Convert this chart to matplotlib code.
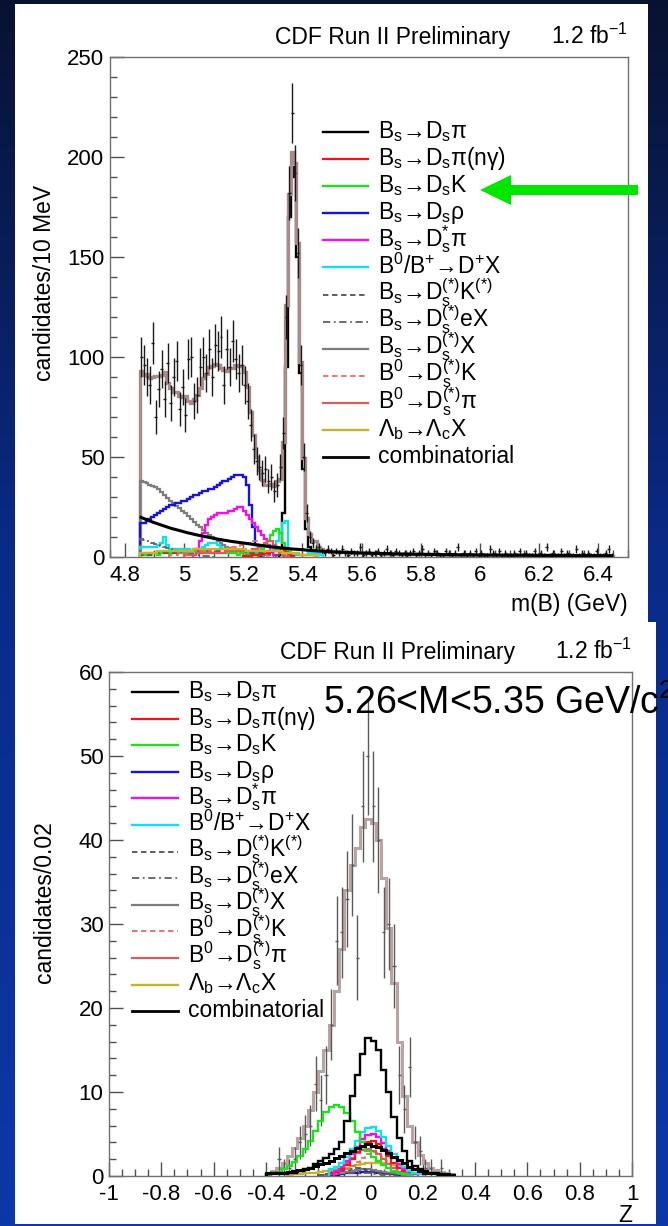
import numpy as np
import matplotlib
matplotlib.use("Agg")
import matplotlib.pyplot as plt
from matplotlib.patches import Rectangle, Polygon
from matplotlib.lines import Line2D
from matplotlib.ticker import MultipleLocator, FuncFormatter

plt.rcParams['font.family'] = ['Liberation Sans', 'DejaVu Sans']
plt.rcParams['mathtext.fontset'] = 'custom'
plt.rcParams['mathtext.rm'] = 'Liberation Sans'
plt.rcParams['mathtext.it'] = 'Liberation Sans:italic'
plt.rcParams['mathtext.bf'] = 'Liberation Sans:bold'
plt.rcParams['mathtext.sf'] = 'Liberation Sans'
plt.rcParams['axes.unicode_minus'] = False

# ======================= DATA =======================
legend_labels = [
    r'B$_\mathrm{s}$→D$_\mathrm{s}$π',
    r'B$_\mathrm{s}$→D$_\mathrm{s}$π(nγ)',
    r'B$_\mathrm{s}$→D$_\mathrm{s}$K',
    r'B$_\mathrm{s}$→D$_\mathrm{s}$ρ',
    r'B$_\mathrm{s}$→D$_\mathrm{s}^\mathrm{*}$π',
    r'B$^\mathrm{0}$/B$^\mathrm{+}$→D$^\mathrm{+}$X',
    r'B$_\mathrm{s}$→D$_\mathrm{s}^\mathrm{(*)}$K$^\mathrm{(*)}$',
    r'B$_\mathrm{s}$→D$_\mathrm{s}^\mathrm{(*)}$eX',
    r'B$_\mathrm{s}$→D$_\mathrm{s}^\mathrm{(*)}$X',
    r'B$^\mathrm{0}$→D$_\mathrm{s}^\mathrm{(*)}$K',
    r'B$^\mathrm{0}$→D$_\mathrm{s}^\mathrm{(*)}$π',
    r'Λ$_\mathrm{b}$→Λ$_\mathrm{c}$X',
    'combinatorial',
]

# ---- top panel: m(B), 10 MeV bins starting at 4.85 ----
mass_bin = 0.01
mass_lo = 4.85
mass_counts = [
    100, 96, 90, 86, 107, 70, 84, 94, 79, 97, 77, 90, 98, 74, 85, 71, 99, 100,
    78, 81, 95, 100, 92, 104, 90, 106, 103, 110, 86, 104, 95, 108, 99, 92, 96, 86,
    78, 66, 54, 48, 45, 42, 44, 38, 40, 33, 36, 45,
    62, 120, 182, 222, 192, 152, 96, 50, 22, 10, 7, 4,
    5, 3, 2, 4, 3, 1, 3, 2, 4, 2,
    1, 3, 2, 2, 5, 1, 2, 3, 1, 2,
    3, 1, 2, 4, 2, 1, 3, 2, 1, 2,
    1, 2, 3, 1, 2, 4, 1, 2, 1, 3,
    2, 1, 1, 3, 2, 1, 2, 5, 1, 2,
    1, 2, 1, 3, 1, 2, 1, 1, 4, 2,
    1, 3, 1, 2, 1, 1, 2, 1, 3, 1,
    2, 1, 1, 3, 1, 2, 1, 5, 1, 2,
    1, 1, 3, 1, 2, 1, 1, 4, 1, 2,
    1, 2, 1, 1, 3, 1, 1, 2, 4, 1,
]
mass_comb = [
    19.8, 19.2, 18.6, 18.0, 17.4, 16.9, 16.4, 15.9, 15.4, 14.9,
    14.4, 14.0, 13.6, 13.2, 12.8, 12.4, 12.0, 11.7, 11.3, 11.0,
    10.7, 10.4, 10.1, 9.8, 9.5, 9.2, 8.9, 8.7, 8.4, 8.2,
    7.9, 7.7, 7.5, 7.3, 7.1, 6.9, 6.7, 6.5, 6.3, 6.1,
    5.9, 5.7, 5.5, 5.3, 5.1, 4.9, 4.8, 4.6, 4.5, 4.3,
    4.2, 4.0, 3.9, 3.8, 3.7, 3.6, 3.4, 3.3, 3.2, 3.1,
    3.0, 2.9, 2.8, 2.8, 2.7, 2.6, 2.5, 2.5, 2.4, 2.3,
    2.3, 2.2, 2.2, 2.1, 2.1, 2.0, 2.0, 1.9, 1.9, 1.8,
    1.8, 1.8, 1.7, 1.7, 1.7, 1.6, 1.6, 1.6, 1.5, 1.5,
    1.5, 1.5, 1.4, 1.4, 1.4, 1.4, 1.3, 1.3, 1.3, 1.3,
    1.3, 1.2, 1.2, 1.2, 1.2, 1.2, 1.2, 1.1, 1.1, 1.1,
    1.1, 1.1, 1.1, 1.1, 1.0, 1.0, 1.0, 1.0, 1.0, 1.0,
    1.0, 1.0, 0.9, 0.9, 0.9, 0.9, 0.9, 0.9, 0.9, 0.9,
    0.9, 0.9, 0.9, 0.8, 0.8, 0.8, 0.8, 0.8, 0.8, 0.8,
    0.8, 0.8, 0.8, 0.8, 0.8, 0.8, 0.7, 0.7, 0.7, 0.7,
    0.7, 0.7, 0.7, 0.7, 0.7, 0.7, 0.7, 0.7, 0.7, 0.7,
]
m_sig_start = 5.32
m_sig = [1, 22, 95, 170, 195, 190, 150, 92, 44, 14, 5, 2, 1]
m_ngamma_start = 5.20
m_ngamma = [0.5, 0.6, 0.7, 0.8, 1.0, 1.2, 1.4, 1.7, 2.0, 2.4, 2.8, 3.3, 4.0, 3.5, 2.5, 1.2, 0.4]
m_dsk_start = 4.85
m_dsk = [1, 1, 2, 1, 2, 2, 1, 2, 2, 2, 2, 2, 3, 2, 2, 3, 2, 2, 3, 2,
         2, 3, 2, 2, 2, 2, 2, 2, 2, 2, 2, 2, 2, 1, 2,
         2, 2, 2, 2, 2, 3, 4, 6, 8, 11, 13, 14, 12, 7, 3, 1]
m_rho_start = 4.85
m_rho = [17, 17, 18, 19, 20, 21, 22, 23, 24, 25, 26, 26, 27, 27, 28, 28, 29, 30, 31, 31,
         32, 33, 33, 34, 34, 35, 36, 37, 38, 38, 39, 40, 41, 41, 41, 40, 36, 26, 15, 6, 2]
m_dsstar_start = 5.03
m_dsstar = [1, 4, 8, 12, 16, 19, 20, 21, 22, 22, 22, 22, 23, 23, 24, 25, 25, 23, 21, 19,
            17, 15, 13, 11, 9, 6, 3, 1]
m_dplus_start = 4.85
m_dplus = [5, 5, 5, 5, 5, 5, 6, 7, 10, 6,
           4, 4, 4, 4, 4, 4, 4, 3, 3, 4,
           4, 5, 6, 7, 7, 7, 6, 5, 4, 4,
           3, 3, 3, 3, 2, 2, 2, 2, 2, 2,
           2, 2, 2, 2, 3, 4, 8, 12, 17, 18,
           3, 1, 1, 1, 1, 1, 1, 2, 2, 3, 2, 1]
m_dskst_start = 4.85
m_dskst = [1, 1, 1, 1, 1, 2, 2, 2, 2, 2, 2, 2, 2, 2, 3, 3, 3, 3, 3, 3,
           3, 3, 3, 3, 3, 3, 3, 3, 3, 3, 3, 3, 3, 3, 3, 3, 2, 2, 2, 2,
           2, 2, 1, 1, 1, 1, 1, 0.5, 0.5, 0.5]
m_dsex_start = 4.85
m_dsex = [9, 8.5, 8, 7.5, 7, 6.5, 6, 5.5, 5, 4.5, 4, 3.6, 3.2, 2.8, 2.4, 2, 1.7, 1.4, 1.1, 0.9,
          0.7, 0.5, 0.4, 0.3, 0.2, 0.1]
m_dsx_start = 4.85
m_dsx = [38, 37.5, 37, 36, 35.5, 35, 34, 32.5, 31, 29.5, 28, 27, 25.5, 24.5, 23, 22, 20.5, 19,
         17.5, 16, 15, 13.5, 12, 11, 10, 9, 8, 7, 6, 5, 4.5, 4, 3.5, 3, 2.5, 2, 1.5, 1.5,
         1, 1, 0.5, 0.5]
m_b0k_start = 4.95
m_b0k = [1, 1, 1, 2, 2, 2, 2, 3, 3, 3, 3, 3, 3, 3, 4, 4, 4, 4, 4, 4,
         5, 5, 5, 5, 6, 6, 7, 7, 8, 8, 6, 3, 1, 0.5]
m_b0pi_start = 5.00
m_b0pi = [1, 1, 1, 1, 2, 2, 2, 2, 2, 2, 2, 2, 2, 2, 3, 3, 3, 3, 3, 3,
          3, 3, 3, 4, 4, 5, 6, 7, 8, 8, 6, 4, 2, 1, 0.5]
m_lb_start = 4.85
m_lb = [2, 2, 2, 2, 2, 2, 3, 3, 3, 3, 3, 3, 3, 3, 3, 3, 3, 3, 4, 4,
        4, 4, 4, 4, 4, 4, 4, 4, 4, 4, 4, 4, 4, 4, 4, 4, 3, 3, 3, 3,
        3, 3, 3, 3, 3, 3, 3, 3, 2, 2, 2, 2, 2, 2, 1, 1, 1, 1, 1, 1]

# ---- bottom panel: Z, 0.02 bins, listed from -0.40 ----
z_bin = 0.02
z_lo = -0.40
z_counts = [0, 0, 2, 1, 1, 2, 4, 5, 6, 11, 9, 12, 18, 28, 29, 33, 37, 26, 44, 50,
            44, 40, 29, 30, 25, 12, 8, 13, 4, 3, 1, 1, 0, 1, 0, 0]
z_total = [0.3, 0.6, 1.0, 1.6, 2.4, 3.3, 4.5, 6.0, 7.8, 10.0, 12.5, 15.0, 18.0, 22.0, 27.0,
           34.0, 37.0, 39.0, 41.5, 42.5, 42.0, 40.0, 35.5, 29.5, 23.0, 16.0, 9.5, 6.0, 4.0,
           2.5, 1.5, 1.0, 0.7, 0.5, 0.4, 0.2]
z_sig_start = -0.40
z_sig = [0.2, 0.3, 0.3, 0.3, 0.4, 0.4, 0.6, 0.8, 1.0, 1.4, 1.8, 2.2, 2.6, 3.2, 4.0, 6.5,
         9.5, 12.0, 14.5, 16.4, 16.1, 15.0, 12.6, 10.0, 7.0, 4.5, 3.0, 1.8, 1.2, 0.8,
         0.6, 0.4, 0.3, 0.2, 0.1, 0.1]
z_ngamma_start = -0.16
z_ngamma = [0.3, 0.5, 0.8, 1.3, 2.0, 2.8, 3.5, 4.0, 4.2, 3.8, 3.2, 2.4, 1.6, 1.0, 0.6, 0.3]
z_dsk_start = -0.40
z_dsk = [0.1, 0.3, 0.5, 0.8, 1.2, 1.7, 2.4, 3.2, 4.2, 5.3, 6.5, 7.6, 8.2, 8.5, 8.2, 7.5,
         6.5, 5.2, 4.0, 3.0, 2.3, 1.8, 1.3, 0.9, 0.6, 0.4, 0.2, 0.1]
z_rho_start = -0.16
z_rho = [0.1, 0.1, 0.2, 0.3, 0.4, 0.4, 0.5, 0.5, 0.5, 0.4, 0.4, 0.3, 0.2, 0.1, 0.1, 0.1]
z_dsstar_start = -0.14
z_dsstar = [0.6, 1.1, 1.8, 2.6, 3.5, 4.4, 4.9, 5.0, 4.6, 3.9, 3.0, 2.1, 1.4, 0.8, 0.4, 0.2]
z_dplus_start = -0.16
z_dplus = [0.8, 1.1, 1.5, 2.3, 3.2, 4.2, 5.2, 5.7, 5.8, 5.4, 4.6, 3.6, 2.6, 1.8, 1.1, 0.6, 0.3, 0.2]
z_dskst_start = -0.20
z_dskst = [0.1, 0.2, 0.3, 0.4, 0.6, 0.7, 0.8, 0.9, 0.8, 0.7, 0.5, 0.4, 0.3, 0.2, 0.1]
z_dsex_start = -0.20
z_dsex = [0.1, 0.1, 0.2, 0.2, 0.3, 0.3, 0.4, 0.4, 0.3, 0.3, 0.2, 0.2, 0.1, 0.1]
z_dsx_start = -0.18
z_dsx = [0.1, 0.2, 0.3, 0.4, 0.5, 0.6, 0.7, 0.8, 0.8, 0.7, 0.6, 0.5, 0.4, 0.3, 0.2, 0.1]
z_b0k_start = -0.14
z_b0k = [0.2, 0.4, 0.8, 1.2, 1.7, 2.2, 2.6, 2.8, 2.7, 2.3, 1.8, 1.2, 0.8, 0.4, 0.2]
z_b0pi_start = -0.16
z_b0pi = [0.3, 0.6, 1.0, 1.5, 2.1, 2.7, 3.1, 3.2, 3.0, 2.6, 2.0, 1.4, 0.9, 0.5, 0.3, 0.1]
z_lb_start = -0.32
z_lb = [0.1, 0.2, 0.2, 0.3, 0.3, 0.4, 0.5, 0.6, 0.7, 0.8, 0.9, 1.0, 1.2, 1.3, 1.4, 1.5,
        1.6, 1.6, 1.5, 1.4, 1.3, 1.2, 1.0, 0.9, 0.7, 0.6, 0.5, 0.4, 0.3, 0.2, 0.2, 0.1]
z_comb_start = -0.40
z_comb = [0.3, 0.3, 0.4, 0.4, 0.5, 0.6, 0.7, 0.8, 1.0, 1.2, 1.4, 1.6, 1.8, 2.1, 2.4, 2.7,
          3.0, 3.3, 3.6, 3.8, 3.6, 3.4, 3.1, 2.7, 2.3, 1.9, 1.5, 1.1, 0.8, 0.6, 0.4, 0.3,
          0.3, 0.2, 0.2, 0.1]

# ======================= STYLES =======================
styles = [
    dict(color='#000000', lw=1.7, ls='-'),
    dict(color='#ff1010', lw=1.6, ls='-'),
    dict(color='#22dd22', lw=1.7, ls='-'),
    dict(color='#1414dd', lw=1.7, ls='-'),
    dict(color='#ee10ee', lw=1.7, ls='-'),
    dict(color='#10e0ea', lw=1.7, ls='-'),
    dict(color='#505050', lw=1.3, ls=(0, (3, 2))),
    dict(color='#606060', lw=1.3, ls=(0, (4, 2, 1, 2))),
    dict(color='#7c7c7c', lw=1.6, ls='-'),
    dict(color='#e06a6a', lw=1.3, ls=(0, (3, 2))),
    dict(color='#d85c5c', lw=1.6, ls='-'),
    dict(color='#c8b428', lw=1.7, ls='-'),
    dict(color='#000000', lw=2.2, ls='-'),
]

W, H = 668, 1226
def fx(px):
    return px / W
def fy(py):
    return 1 - py / H

fig = plt.figure(figsize=(W / 100, H / 100), dpi=100)

# ---- slide background ----
bg = fig.add_axes([0, 0, 1, 1], zorder=-5)
bg.set_xlim(0, W)
bg.set_ylim(H, 0)
bg.axis('off')
grad = np.linspace(0, 1, 256)[:, None]
c0 = np.array([8, 18, 48]) / 255
c1 = np.array([10, 42, 135]) / 255
c2 = np.array([12, 56, 168]) / 255
cols = np.where(grad[..., None] < 0.45,
                c0 + (c1 - c0) * (grad[..., None] / 0.45),
                c1 + (c2 - c1) * ((grad[..., None] - 0.45) / 0.55))
bg.imshow(cols, extent=[0, W, H, 0], aspect='auto', zorder=0)
bg.add_patch(Rectangle((15, 4), 633, 618, facecolor='white', edgecolor='none', zorder=1))
bg.add_patch(Rectangle((15, 622), 641, 602, facecolor='white', edgecolor='none', zorder=1))

TICK_FS = 16
TXT_FS = 16.5

def style_axes(ax):
    ax.set_facecolor('none')
    for s in ax.spines.values():
        s.set_color('#707070')
        s.set_linewidth(1.0)
    ax.tick_params(which='both', direction='in', top=False, right=False,
                   colors='#505050', labelcolor='black', labelsize=TICK_FS)
    ax.tick_params(which='major', length=10, width=1.0)
    ax.tick_params(which='minor', length=5, width=1.0)
    ax.tick_params(axis='x', pad=6)
    ax.tick_params(axis='y', pad=4)
    fmt = FuncFormatter(lambda v, p: ('%g' % round(v, 3)))
    ax.xaxis.set_major_formatter(fmt)
    ax.yaxis.set_major_formatter(fmt)

def place(start, vals, lo, width, n):
    arr = np.zeros(n)
    i0 = int(round((start - lo) / width))
    arr[i0:i0 + len(vals)] = vals
    return arr

def hist(ax, start, width, vals, st, z):
    vals = np.asarray(vals, float)
    edges = start + width * np.arange(len(vals) + 1)
    ax.stairs(vals, edges, baseline=0, color=st['color'], linewidth=st['lw'],
              linestyle=st['ls'], zorder=z)

# ======================= TOP PANEL =======================
ax1 = fig.add_axes([fx(110), fy(557), fx(628) - fx(110), fy(57) - fy(557)])
style_axes(ax1)
n_m = len(mass_counts)
m_edges = mass_lo + mass_bin * np.arange(n_m + 1)
m_centers = mass_lo + mass_bin * (np.arange(n_m) + 0.5)

top_components = [
    (m_sig_start, m_sig), (m_ngamma_start, m_ngamma), (m_dsk_start, m_dsk),
    (m_rho_start, m_rho), (m_dsstar_start, m_dsstar), (m_dplus_start, m_dplus),
    (m_dskst_start, m_dskst), (m_dsex_start, m_dsex), (m_dsx_start, m_dsx),
    (m_b0k_start, m_b0k), (m_b0pi_start, m_b0pi), (m_lb_start, m_lb),
]
m_total = np.array(mass_comb, float)
for s0, v in top_components:
    m_total = m_total + place(s0, v, mass_lo, mass_bin, n_m)

# signal sits underneath the fit total, as in the original
hist(ax1, m_sig_start, mass_bin, m_sig, styles[0], 1.5)
ax1.stairs(m_total, m_edges, baseline=0, color='#a88c8c', linewidth=2.4, zorder=2)
cnt = np.array(mass_counts, float)
ok = cnt > 0
ax1.errorbar(m_centers[ok], cnt[ok], yerr=np.sqrt(cnt[ok]), xerr=mass_bin / 2,
             fmt='none', ecolor='#1a1a1a', elinewidth=1.0, capsize=0, zorder=3)
for k in [8, 3, 4, 5, 2, 1, 6, 7, 9, 10, 11]:
    s0, v = top_components[k]
    hist(ax1, s0, mass_bin, v, styles[k], 4)
ax1.plot(m_centers, mass_comb, color=styles[12]['color'], lw=styles[12]['lw'], zorder=5)

ax1.set_xlim(4.75, 6.5)
ax1.set_ylim(0, 250)
ax1.xaxis.set_major_locator(MultipleLocator(0.2))
ax1.xaxis.set_minor_locator(MultipleLocator(0.05))
ax1.yaxis.set_major_locator(MultipleLocator(50))
ax1.yaxis.set_minor_locator(MultipleLocator(10))

# ======================= BOTTOM PANEL =======================
ax2 = fig.add_axes([fx(109), fy(1176), fx(632) - fx(109), fy(672) - fy(1176)])
style_axes(ax2)
n_z = len(z_counts)
z_edges = z_lo + z_bin * np.arange(n_z + 1)
z_centers = z_lo + z_bin * (np.arange(n_z) + 0.5)
ax2.stairs(np.array(z_total, float), z_edges, baseline=0, color='#b9a3a3', linewidth=2.2, zorder=2)
zc = np.array(z_counts, float)
ok = zc > 0
ax2.errorbar(z_centers[ok], zc[ok], yerr=np.sqrt(zc[ok]), xerr=0.006,
             fmt='none', ecolor='#5a5a5a', elinewidth=1.0, capsize=0, zorder=3)
bottom_components = [
    (z_sig_start, z_sig), (z_ngamma_start, z_ngamma), (z_dsk_start, z_dsk),
    (z_rho_start, z_rho), (z_dsstar_start, z_dsstar), (z_dplus_start, z_dplus),
    (z_dskst_start, z_dskst), (z_dsex_start, z_dsex), (z_dsx_start, z_dsx),
    (z_b0k_start, z_b0k), (z_b0pi_start, z_b0pi), (z_lb_start, z_lb),
    (z_comb_start, z_comb),
]
for k in [11, 3, 8, 6, 7, 9, 10, 1, 4, 5, 2, 12, 0]:
    s0, v = bottom_components[k]
    hist(ax2, s0, z_bin, v, styles[k], 4)
ax2.set_xlim(-1, 1)
ax2.set_ylim(0, 60)
ax2.xaxis.set_major_locator(MultipleLocator(0.2))
ax2.xaxis.set_minor_locator(MultipleLocator(0.05))
ax2.yaxis.set_major_locator(MultipleLocator(10))
ax2.yaxis.set_minor_locator(MultipleLocator(2))

# ======================= LEGENDS (ROOT-like, fixed row pitch) =======================
def legend(x0, x1, xt, y0, pitch):
    for i, (lab, st) in enumerate(zip(legend_labels, styles)):
        y = y0 + pitch * i
        fig.add_artist(Line2D([fx(x0), fx(x1)], [fy(y), fy(y)], color=st['color'],
                              linewidth=min(st['lw'], 2.0), linestyle=st['ls'],
                              transform=fig.transFigure, zorder=6))
        fig.text(fx(xt), fy(y + 6), lab, ha='left', va='baseline', fontsize=TXT_FS,
                 color='black', zorder=6)

legend(323, 368, 378, 132, 27.1)
legend(132, 178, 188, 692, 26.6)

# ======================= TEXTS =======================
fig.text(fx(275), fy(44), 'CDF Run II Preliminary', ha='left', va='baseline', fontsize=TXT_FS)
fig.text(fx(628), fy(44), r'1.2 fb$^\mathrm{-1}$', ha='right', va='baseline', fontsize=TXT_FS)
fig.text(fx(280), fy(659), 'CDF Run II Preliminary', ha='left', va='baseline', fontsize=TXT_FS)
fig.text(fx(632), fy(659), r'1.2 fb$^\mathrm{-1}$', ha='right', va='baseline', fontsize=TXT_FS)
fig.text(fx(628), fy(611), 'm(B) (GeV)', ha='right', va='baseline', fontsize=TXT_FS)
fig.text(fx(632), fy(1222), 'Z', ha='right', va='baseline', fontsize=TXT_FS)
fig.text(fx(45), fy(283), 'candidates/10 MeV', rotation=90, ha='center', va='center', fontsize=TXT_FS)
fig.text(fx(45), fy(902), 'candidates/0.02', rotation=90, ha='center', va='center', fontsize=TXT_FS)
fig.text(fx(323), fy(714), r'5.26<M<5.35 GeV/c$^\mathrm{2}$', ha='left', va='baseline',
         fontsize=27, color='black', zorder=7)

# ---- green arrow pointing at the Bs -> Ds K entry ----
arrow_px = [(638, 185), (511, 185), (511, 175), (480, 190), (511, 205), (511, 195), (638, 195)]
fig.add_artist(Polygon([(fx(x), fy(y)) for x, y in arrow_px], closed=True,
                       facecolor='#00e600', edgecolor='none', transform=fig.transFigure, zorder=8))

fig.savefig('out.png', dpi=100)
